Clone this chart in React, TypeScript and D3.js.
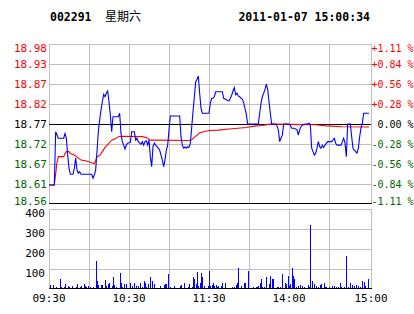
import React from "react";
import * as d3 from "d3";

const stockCode = "002291";
const weekday = "星期六";
const timestamp = "2011-01-07 15:00:34";

const preClose = 18.77;
const priceTicks = ["18.98", "18.93", "18.87", "18.82", "18.77", "18.72", "18.67", "18.61", "18.56"];
const pctTicks = ["+1.11 %", "+0.84 %", "+0.56 %", "+0.28 %", " 0.00 %", "-0.28 %", "-0.56 %", "-0.84 %", "-1.11 %"];
const volTicks = [400, 300, 200, 100];
const timeLabels = ["09:30", "10:30", "11:30", "14:00", "15:00"];
const timeLabelMinutes = [0, 60, 120, 180, 240];

// [minute index, price]
const priceSeries: [number, number][] = [
  [0, 18.611], [4, 18.611], [5, 18.75], [7, 18.733], [11, 18.733], [12, 18.745], [13, 18.733], [14, 18.69],
  [15, 18.655], [16, 18.639], [18, 18.639], [19, 18.655], [20, 18.681], [21, 18.65], [22, 18.642], [23, 18.646],
  [24, 18.639], [32, 18.639], [33, 18.629], [34, 18.637], [35, 18.65], [36, 18.699], [37, 18.75], [38, 18.78],
  [39, 18.806], [40, 18.828], [41, 18.847], [42, 18.841], [43, 18.85], [44, 18.856], [45, 18.828], [46, 18.793],
  [47, 18.75], [48, 18.789], [52, 18.789], [53, 18.798], [54, 18.745], [55, 18.724], [56, 18.715], [57, 18.705],
  [58, 18.715], [59, 18.72], [61, 18.722], [62, 18.75], [64, 18.75], [65, 18.728], [66, 18.733], [67, 18.724],
  [69, 18.717], [70, 18.724], [71, 18.715], [72, 18.724], [73, 18.726], [74, 18.715], [75, 18.728], [76, 18.685],
  [77, 18.659], [78, 18.711], [79, 18.72], [80, 18.715], [81, 18.711], [82, 18.707], [83, 18.702], [84, 18.689],
  [85, 18.676], [86, 18.659], [87, 18.676], [88, 18.702], [89, 18.715], [90, 18.755], [91, 18.791], [98, 18.791],
  [99, 18.737], [100, 18.715], [101, 18.707], [102, 18.71], [103, 18.707], [104, 18.711], [105, 18.709], [106, 18.72],
  [107, 18.76], [108, 18.802], [109, 18.84], [110, 18.88], [111, 18.886], [112, 18.895], [113, 18.85], [114, 18.811],
  [115, 18.798], [120, 18.798], [121, 18.824], [122, 18.837], [123, 18.837], [124, 18.841], [125, 18.854], [130, 18.854],
  [131, 18.837], [132, 18.835], [134, 18.831], [135, 18.83], [136, 18.837], [137, 18.845], [138, 18.856], [139, 18.865],
  [140, 18.846], [141, 18.85], [142, 18.843], [143, 18.841], [144, 18.837], [145, 18.835], [146, 18.825], [147, 18.81],
  [148, 18.795], [149, 18.77], [157, 18.77], [158, 18.798], [159, 18.824], [160, 18.841], [161, 18.85], [162, 18.86],
  [163, 18.874], [164, 18.86], [165, 18.828], [166, 18.798], [167, 18.77], [170, 18.77], [171, 18.765], [172, 18.755],
  [173, 18.724], [174, 18.733], [175, 18.741], [176, 18.77], [180, 18.77], [181, 18.767], [182, 18.759], [184, 18.759],
  [186, 18.755], [187, 18.741], [188, 18.755], [189, 18.763], [190, 18.767], [192, 18.77], [194, 18.77], [195, 18.772],
  [196, 18.767], [197, 18.707], [198, 18.698], [199, 18.689], [200, 18.694], [201, 18.707], [202, 18.724], [203, 18.711],
  [204, 18.707], [205, 18.715], [206, 18.709], [207, 18.715], [209, 18.724], [212, 18.724], [213, 18.728], [214, 18.733],
  [215, 18.72], [216, 18.715], [219, 18.715], [220, 18.724], [221, 18.733], [222, 18.72], [223, 18.685], [224, 18.77],
  [226, 18.77], [227, 18.737], [228, 18.707], [229, 18.702], [231, 18.694], [232, 18.707], [233, 18.737], [234, 18.759],
  [235, 18.772], [236, 18.798], [240, 18.798],
];

// [minute index, average price]
const avgSeries: [number, number][] = [
  [0, 18.611], [4, 18.611], [5, 18.64], [6, 18.67], [7, 18.685], [11, 18.685], [12, 18.693], [13, 18.698],
  [15, 18.698], [16, 18.693], [19, 18.689], [22, 18.681], [24, 18.676], [29, 18.673], [32, 18.669], [34, 18.667],
  [35, 18.675], [36, 18.685], [38, 18.688], [40, 18.698], [42, 18.709], [44, 18.716], [47, 18.728], [49, 18.73],
  [52, 18.737], [55, 18.738], [70, 18.737], [73, 18.735], [76, 18.728], [105, 18.727], [107, 18.729], [109, 18.735],
  [111, 18.741], [113, 18.747], [120, 18.753], [127, 18.754], [135, 18.757], [148, 18.761], [155, 18.765], [160, 18.766],
  [166, 18.77], [180, 18.769], [200, 18.768], [208, 18.765], [220, 18.763], [240, 18.762],
];

// [minute index, volume]
const volumeSeries: [number, number][] = [
  [1, 22], [3, 22], [5, 12], [8, 48], [9, 12], [11, 12], [12, 26], [14, 17], [15, 9], [17, 17], [20, 12], [21, 26],
  [23, 12], [24, 17], [26, 26], [27, 17], [28, 9], [29, 17], [31, 12], [33, 12], [35, 138], [36, 38], [37, 22],
  [39, 22], [40, 22], [42, 43], [43, 17], [44, 26], [45, 31], [47, 17], [48, 59], [49, 22], [50, 12], [53, 79],
  [54, 31], [55, 12], [56, 26], [58, 26], [61, 31], [62, 17], [64, 31], [65, 17], [67, 17], [68, 31], [70, 12],
  [71, 38], [72, 31], [73, 12], [74, 26], [76, 59], [77, 38], [79, 26], [83, 17], [86, 22], [87, 26], [88, 26],
  [89, 74], [91, 12], [94, 17], [98, 17], [99, 22], [101, 31], [104, 12], [105, 26], [107, 12], [108, 59], [109, 52],
  [110, 26], [111, 83], [112, 14], [113, 31], [114, 78], [115, 59], [116, 17], [119, 17], [120, 90], [121, 17],
  [122, 22], [123, 31], [124, 17], [125, 22], [126, 9], [127, 14], [129, 17], [130, 28], [132, 28], [137, 12],
  [139, 12], [140, 22], [141, 28], [142, 103], [144, 17], [146, 28], [147, 28], [149, 90], [153, 12], [155, 12],
  [156, 12], [157, 17], [158, 31], [159, 48], [160, 12], [161, 12], [163, 60], [165, 26], [166, 64], [167, 48],
  [168, 48], [171, 12], [172, 12], [173, 12], [175, 74], [177, 31], [178, 26], [179, 64], [180, 17], [181, 26],
  [182, 107], [183, 64], [184, 48], [185, 12], [187, 17], [188, 22], [190, 17], [191, 12], [194, 22], [195, 12],
  [196, 320], [197, 38], [199, 26], [200, 17], [202, 12], [203, 22], [204, 26], [206, 31], [207, 12], [208, 9],
  [210, 12], [212, 17], [214, 17], [215, 12], [217, 12], [218, 28], [219, 12], [221, 12], [223, 164], [224, 12],
  [226, 28], [227, 22], [229, 17], [230, 22], [232, 17], [233, 12], [235, 38], [236, 34], [237, 17], [239, 48],
];

const W = 414;
const H = 314;
const left = 49;
const right = 371;
const mainTop = 44;
const mainBottom = 204;
const volTop = 209;
const volBottom = 289;

const RED = "#ff0000";
const GREEN = "#006600";
const BLUE = "#0000ff";
const GRID = "#c0c0c0";
const MONO = "'DejaVu Sans Mono', 'Liberation Mono', monospace";

export default function App() {
  const x = d3.scaleLinear().domain([0, 240]).range([left, 369]);
  const pRange = preClose * 0.0111;
  const y = d3.scaleLinear().domain([preClose - pRange, preClose + pRange]).range([mainBottom, mainTop]);
  const yv = d3.scaleLinear().domain([0, 400]).range([volBottom, volTop]);

  const line = d3
    .line<[number, number]>()
    .x((d) => x(d[0]))
    .y((d) => y(d[1]));

  const gridMinutes = d3.range(30, 240, 30);
  const rowYs = priceTicks.map((_, i) => mainTop + ((mainBottom - mainTop) * i) / (priceTicks.length - 1));
  const volRowYs = volTicks.map((v) => yv(v));

  const labelColor = (i: number) => (i < 4 ? RED : i === 4 ? "#000" : GREEN);
  const clampY = (v: number) => Math.max(mainTop + 4, Math.min(mainBottom - 3, v));

  return (
    <svg
      width={W}
      height={H}
      style={{ position: "absolute", left: 0, top: 0, background: "#fff" }}
    >
      {/* Header */}
      <text x={50} y={21} fontFamily={MONO} fontWeight="bold" fontSize={11.5} fill="#000">
        {stockCode}
      </text>
      <text x={105} y={21} fontFamily="'Noto Sans CJK SC', sans-serif" fontSize={12} fill="#000">
        {weekday}
      </text>
      <text x={370} y={21} textAnchor="end" fontFamily={MONO} fontWeight="bold" fontSize={11.5} fill="#000">
        {timestamp}
      </text>

      {/* Main panel grid */}
      <g shapeRendering="crispEdges">
        {rowYs.map((ry, i) =>
          i === 4 || i === rowYs.length - 1 ? null : (
            <line key={"r" + i} x1={left} x2={right} y1={ry + 0.5} y2={ry + 0.5} stroke={GRID} />
          )
        )}
        {gridMinutes.map((m) => (
          <line key={"v" + m} x1={x(m) + 0.5} x2={x(m) + 0.5} y1={mainTop} y2={mainBottom} stroke={GRID} />
        ))}
        <line x1={left + 0.5} x2={left + 0.5} y1={mainTop} y2={mainBottom} stroke={GRID} />
        <line x1={right + 0.5} x2={right + 0.5} y1={mainTop} y2={mainBottom} stroke={GRID} />
        <line x1={left} x2={right} y1={rowYs[4] + 0.5} y2={rowYs[4] + 0.5} stroke="#000" />
        <line x1={left} x2={right + 1} y1={mainBottom - 0.5} y2={mainBottom - 0.5} stroke="#000" />
      </g>

      {/* Price labels */}
      {priceTicks.map((t, i) => (
        <text
          key={"pl" + i}
          x={47}
          y={clampY(rowYs[i])}
          dy="0.36em"
          textAnchor="end"
          fontFamily={MONO}
          fontSize={11}
          fill={labelColor(i)}
        >
          {t}
        </text>
      ))}
      {pctTicks.map((t, i) => (
        <text
          key={"pc" + i}
          x={371.5}
          y={clampY(rowYs[i])}
          dy="0.36em"
          fontFamily={MONO}
          fontSize={10}
          fill={labelColor(i)}
          style={{ whiteSpace: "pre" }}
        >
          {t}
        </text>
      ))}

      {/* Lines */}
      <path d={line(avgSeries) || ""} fill="none" stroke={RED} strokeWidth={1.1} />
      <path d={line(priceSeries) || ""} fill="none" stroke={BLUE} strokeWidth={1.1} />

      {/* Volume panel */}
      <g shapeRendering="crispEdges">
        {volRowYs.map((vy, i) => (
          <line key={"vr" + i} x1={left} x2={right} y1={vy + 0.5} y2={vy + 0.5} stroke={GRID} />
        ))}
        {gridMinutes.map((m) => (
          <line key={"vv" + m} x1={x(m) + 0.5} x2={x(m) + 0.5} y1={volTop} y2={volBottom} stroke={GRID} />
        ))}
        <line x1={left + 0.5} x2={left + 0.5} y1={volTop} y2={volBottom} stroke={GRID} />
        <line x1={right + 0.5} x2={right + 0.5} y1={volTop} y2={volBottom} stroke={GRID} />
        {volumeSeries.map(([m, v]) => (
          <rect key={"b" + m} x={Math.round(x(m))} y={yv(v)} width={1} height={volBottom - yv(v)} fill={BLUE} />
        ))}
        <line x1={left} x2={right + 1} y1={volBottom - 0.5} y2={volBottom - 0.5} stroke="#000" />
      </g>

      {volTicks.map((v, i) => (
        <text
          key={"vl" + i}
          x={45}
          y={volRowYs[i] + 4}
          dy="0.36em"
          textAnchor="end"
          fontFamily={MONO}
          fontSize={11}
          fill="#000"
        >
          {v}
        </text>
      ))}

      {timeLabels.map((t, i) => (
        <text
          key={"tl" + i}
          x={i === timeLabels.length - 1 ? 371 : x(timeLabelMinutes[i])}
          y={302}
          textAnchor="middle"
          fontFamily={MONO}
          fontSize={11}
          fill="#000"
        >
          {t}
        </text>
      ))}
    </svg>
  );
}
